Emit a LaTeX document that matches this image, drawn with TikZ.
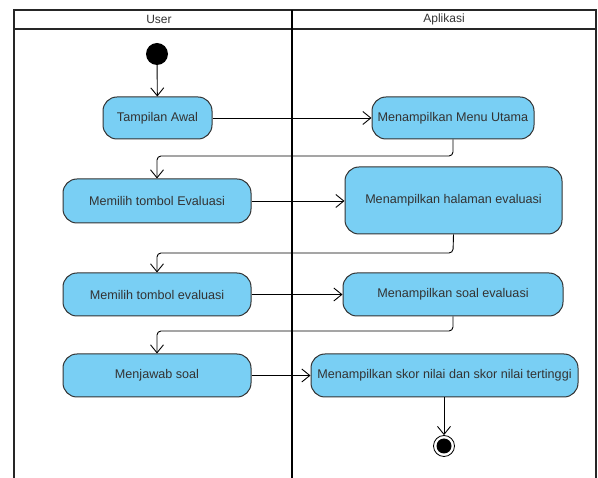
\documentclass[tikz,border=0pt]{standalone}
\usepackage{fontspec}
\setmainfont{Liberation Sans}
\usetikzlibrary{arrows.meta}
\definecolor{actfill}{HTML}{79CFF4}
\definecolor{acttext}{HTML}{333333}
\begin{document}
\begin{tikzpicture}[x=1pt,y=-1pt,
  act/.style={draw=black!80,line width=1pt,fill=actfill,rounded corners=14pt,inner sep=0pt,
    font=\fontsize{12.6}{15}\selectfont,text=acttext},
  flow/.style={draw=black,line width=0.9pt,-{Straight Barb[length=8pt,width=13pt,line width=0.9pt]}},
  lane/.style={draw=black!85,line width=2pt},
  hdr/.style={font=\fontsize{12}{14}\selectfont,text=black!80}]
\useasboundingbox (0,0) rectangle (598,478);
% swimlanes
\draw[lane] (14,478) -- (14,10) -- (596,10) -- (596,478);
\draw[lane] (14,29) -- (596,29);
\draw[draw=black,line width=2.5pt] (292,10) -- (292,478);
\node[hdr] (hu) at (159,19.5) {User};
\node[hdr] (ha) at (444,19.5) {Aplikasi};
% nodes
\node[circle,fill=black,minimum size=22pt,inner sep=0pt] (start) at (157,54) {};
\node[act,minimum width=109pt,minimum height=42pt] (a1) at (157.5,118) {Tampilan Awal};
\node[act,minimum width=162pt,minimum height=42pt] (b1) at (453,118) {Menampilkan Menu Utama};
\node[act,minimum width=188pt,minimum height=44pt] (a2) at (157,201) {Memilih tombol Evaluasi};
\node[act,minimum width=217pt,minimum height=67pt] (b2) at (453.5,200.5) {Menampilkan halaman evaluasi};
\node[act,minimum width=188pt,minimum height=43pt] (a3) at (157,294.5) {Memilih tombol evaluasi};
\node[act,minimum width=220pt,minimum height=43pt] (b3) at (453,294.5) {Menampilkan soal evaluasi};
\node[act,minimum width=188pt,minimum height=43pt] (a4) at (157,375.5) {Menjawab soal};
\node[act,minimum width=267pt,minimum height=43pt] (b4) at (444.5,375.5) {Menampilkan skor nilai dan skor nilai tertinggi};
\node[circle,draw=black,line width=0.8pt,fill=white,minimum size=21pt,inner sep=0pt] (end) at (444,446) {};
\node[circle,fill=black,minimum size=15pt,inner sep=0pt] (endin) at (end.center) {};
% connectors
\draw[flow] (start) -- (a1);
\draw[flow] (a1) -- (b1);
\coordinate (c1) at (453,156);
\draw[flow,rounded corners=4pt] (b1.south) -- (c1) -| (a2.north);
\draw[flow] (a2) -- (b2.west |- a2);
\coordinate (c2) at (453,253);
\draw[flow,rounded corners=4pt] (b2.south) -- (c2) -| (a3.north);
\draw[flow] (a3) -- (b3);
\coordinate (c3) at (453,331);
\draw[flow,rounded corners=4pt] (b3.south) -- (c3) -| (a4.north);
\draw[flow] (a4) -- (b4);
\draw[flow] (b4.south -| end) -- (end.north);
\end{tikzpicture}
\end{document}
